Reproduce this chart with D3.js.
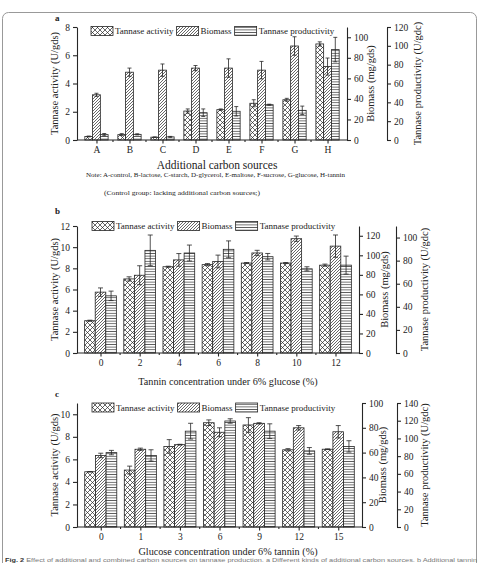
<!DOCTYPE html>
<html>
<head>
<meta charset="utf-8">
<script src="https://cdn.jsdelivr.net/npm/d3@7"></script>
<style>
  body { margin: 0; background: #fff; }
  text { font-family: "Liberation Serif", "Times New Roman", serif; fill: #222; }
</style>
</head>
<body>
<svg id="fig" width="479" height="563"></svg>
<script>
// Panel a: additional carbon sources
const catsA = ["A", "B", "C", "D", "E", "F", "G", "H"];
const actA = [0.25, 0.38, 0.2, 2.05, 2.15, 2.6, 2.85, 6.8];
const actErrA = [0.03, 0.07, 0.02, 0.15, 0.05, 0.25, 0.1, 0.15];
const bioA = [44, 66, 68, 70, 70, 68, 91.5, 71.5];
const bioErrA = [1.5, 4, 6, 2.5, 9, 8.5, 9, 8.3];
const prodA = [5.7, 6, 3.3, 29, 30.5, 37.5, 31.5, 96];
const prodErrA = [1.2, 0.6, 0.5, 4, 5, 0.5, 4.5, 13];

// Panel b: tannin concentration under 6% glucose
const catsB = ["0", "2", "4", "6", "8", "10", "12"];
const actB = [3.05, 7.0, 8.15, 8.35, 8.5, 8.5, 8.3];
const actErrB = [0.05, 0.2, 0.05, 0.1, 0.05, 0.05, 0.1];
const bioB = [62.3, 79.6, 95.3, 93.7, 102.4, 117, 109.4];
const bioErrB = [4.3, 9.7, 6.5, 6.5, 2.7, 2.7, 11.4];
const prodB = [49.5, 88.9, 86.6, 89.8, 83.4, 72.9, 76.1];
const prodErrB = [4.1, 13.3, 6.9, 7.3, 2.8, 1.8, 7.8];

// Panel c: glucose concentration under 6% tannin
const catsC = ["0", "1", "3", "6", "9", "12", "15"];
const actC = [4.9, 5.05, 7.15, 9.25, 9.05, 6.85, 6.9];
const actErrC = [0.02, 0.35, 0.6, 0.25, 0.65, 0.1, 0.03];
const bioC = [57.7, 62.7, 66.4, 76.4, 83.6, 80, 76.8];
const bioErrC = [1.8, 0.9, 0.3, 3.6, 0.5, 1.8, 5];
const prodC = [84, 80.8, 108.2, 119.7, 108.2, 85.9, 91];
const prodErrC = [2.5, 6.4, 8.9, 2.5, 8.3, 3.8, 6.4];

const seriesNames = ["Tannase activity", "Biomass", "Tannase productivity"];
const patterns = ["pCross", "pDiag", "pHoriz"];
const ink = "#262626";

const svg = d3.select("#fig");

// page frame (top border of the article box)
svg.append("rect")
    .attr("x", 2.5).attr("y", 12.5)
    .attr("width", 474).attr("height", 600)
    .attr("rx", 6)
    .attr("fill", "none").attr("stroke", "#999").attr("stroke-width", 1);

// hatch patterns
const defs = svg.append("defs");
let p = defs.append("pattern").attr("id", "pCross")
    .attr("patternUnits", "userSpaceOnUse").attr("width", 5).attr("height", 5);
p.append("rect").attr("width", 5).attr("height", 5).attr("fill", "#fff");
p.append("path").attr("d", "M0,0L5,5M5,0L0,5")
    .attr("stroke", ink).attr("stroke-width", 0.7);

p = defs.append("pattern").attr("id", "pDiag")
    .attr("patternUnits", "userSpaceOnUse").attr("width", 3).attr("height", 3);
p.append("rect").attr("width", 3).attr("height", 3).attr("fill", "#fff");
p.append("path").attr("d", "M-1,1L1,-1M0,3L3,0M2,4L4,2")
    .attr("stroke", ink).attr("stroke-width", 0.7);

p = defs.append("pattern").attr("id", "pHoriz")
    .attr("patternUnits", "userSpaceOnUse").attr("width", 4).attr("height", 2.6);
p.append("rect").attr("width", 4).attr("height", 2.6).attr("fill", "#fff");
p.append("path").attr("d", "M0,1.3H4")
    .attr("stroke", ink).attr("stroke-width", 0.7);

// style an axis group
const styleAxis = (g) => {
    g.selectAll("path, line").attr("stroke", ink).attr("stroke-width", 1.1);
    g.selectAll("text").attr("font-size", 9.5).attr("fill", ink)
        .style("font-family", '"Liberation Serif", serif');
};

// Draw one panel with its three y axes.
function drawPanel(cfg) {
    const g = svg.append("g");

    const x = d3.scalePoint().domain(cfg.cats)
        .range([cfg.left, cfg.right]).padding(cfg.pad);
    const barW = x.step() * cfg.barFrac;

    const yL = d3.scaleLinear().domain([0, cfg.leftMax]).range([cfg.bottom, cfg.top]);
    const yB = d3.scaleLinear().domain([0, cfg.bioMax]).range([cfg.bottom, cfg.top]);
    const yP = d3.scaleLinear().domain([0, cfg.prodMax]).range([cfg.bottom, cfg.top]);
    const scales = [yL, yB, yP];
    const vals = [cfg.act, cfg.bio, cfg.prod];
    const errs = [cfg.actErr, cfg.bioErr, cfg.prodErr];

    // bars
    vals.forEach((v, s) => {
        const y = scales[s];
        g.append("g").selectAll("rect").data(v).enter().append("rect")
            .attr("x", (d, i) => x(cfg.cats[i]) + (s - 1.5) * barW)
            .attr("y", d => y(d))
            .attr("width", barW)
            .attr("height", d => y(0) - y(d))
            .attr("fill", `url(#${patterns[s]})`)
            .attr("stroke", ink).attr("stroke-width", 0.8);

        // error bars
        const eg = g.append("g").attr("stroke", ink).attr("stroke-width", 0.8);
        v.forEach((d, i) => {
            const cx = x(cfg.cats[i]) + (s - 1) * barW;
            const y1 = y(d + errs[s][i]), y2 = y(d - errs[s][i]);
            eg.append("line").attr("x1", cx).attr("x2", cx).attr("y1", y1).attr("y2", y2);
            eg.append("line").attr("x1", cx - cfg.cap).attr("x2", cx + cfg.cap).attr("y1", y1).attr("y2", y1);
            eg.append("line").attr("x1", cx - cfg.cap).attr("x2", cx + cfg.cap).attr("y1", y2).attr("y2", y2);
        });
    });

    // x axis: major ticks at the groups, minor ticks between them
    const gx = g.append("g").attr("transform", `translate(0,${cfg.bottom})`);
    gx.append("line").attr("x1", cfg.left).attr("x2", cfg.right);
    gx.selectAll(".minor").data(cfg.cats.slice(1)).enter().append("line")
        .attr("x1", d => x(d) - x.step() / 2).attr("x2", d => x(d) - x.step() / 2)
        .attr("y1", 0).attr("y2", 2);
    gx.call(d3.axisBottom(x).tickSize(3.5).tickPadding(3));
    gx.select(".domain").remove();
    styleAxis(gx);

    // left axis
    const gl = g.append("g").attr("transform", `translate(${cfg.left},0)`);
    gl.call(d3.axisLeft(yL).tickValues(d3.range(0, cfg.leftMax + 0.01, 1)).tickFormat("").tickSize(2).tickSizeOuter(0));
    gl.call(d3.axisLeft(yL).tickValues(d3.range(0, cfg.leftTop + 0.01, 2)).tickSize(4).tickSizeOuter(0));
    styleAxis(gl);

    // biomass axis
    const gb = g.append("g").attr("transform", `translate(${cfg.right},0)`);
    gb.call(d3.axisRight(yB).tickValues(d3.range(0, cfg.bioMax + 0.01, 10)).tickFormat("").tickSize(2).tickSizeOuter(0));
    gb.call(d3.axisRight(yB).tickValues(d3.range(0, cfg.bioTop + 0.01, 20)).tickSize(4).tickSizeOuter(0));
    styleAxis(gb);

    // productivity axis
    const gp = g.append("g").attr("transform", `translate(${cfg.prodX},0)`);
    gp.call(d3.axisRight(yP).tickValues(d3.range(0, cfg.prodMax + 0.01, 10)).tickFormat("").tickSize(2).tickSizeOuter(0));
    gp.call(d3.axisRight(yP).tickValues(d3.range(0, cfg.prodTop + 0.01, 20)).tickSize(4).tickSizeOuter(0));
    styleAxis(gp);

    // axis titles
    const midY = (cfg.top + cfg.bottom) / 2;
    const title = (tx, label) => g.append("text")
        .attr("transform", `translate(${tx},${midY}) rotate(-90)`)
        .attr("text-anchor", "middle").attr("font-size", 10.5).text(label);
    title(cfg.left - 19, "Tannase activity (U/gds)");
    title(cfg.bioTitleX, "Biomass (mg/gds)");
    title(cfg.prodTitleX, "Tannase productivity (U/gdc)");

    g.append("text").attr("x", (cfg.left + cfg.right) / 2 + cfg.xTitleShift).attr("y", cfg.xTitleY)
        .attr("text-anchor", "middle").attr("font-size", cfg.xTitleFont).text(cfg.xTitle);

    g.append("text").attr("x", 55).attr("y", cfg.tagY)
        .attr("font-size", 9).attr("font-weight", "bold").text(cfg.tag);

    // legend
    let lx = cfg.legendX;
    const ly = cfg.legendY;
    seriesNames.forEach((name, s) => {
        g.append("rect").attr("x", lx).attr("y", ly - 4.5).attr("width", 22).attr("height", 9)
            .attr("fill", `url(#${patterns[s]})`).attr("stroke", ink).attr("stroke-width", 0.8);
        const t = g.append("text").attr("x", lx + 24).attr("y", ly + 3.3)
            .attr("font-size", 9).text(name);
        lx += 24 + t.node().getComputedTextLength() + 3;
    });
}

drawPanel({
    tag: "a", tagY: 21, cats: catsA, act: actA, actErr: actErrA, bio: bioA, bioErr: bioErrA,
    prod: prodA, prodErr: prodErrA,
    top: 27, bottom: 140, left: 77, right: 347, prodX: 387, pad: 0.59, barFrac: 0.235, cap: 2,
    leftMax: 8, leftTop: 8, bioMax: 110, bioTop: 100, prodMax: 120, prodTop: 120,
    bioTitleX: 374, prodTitleX: 421,
    xTitle: "Additional carbon sources", xTitleY: 168.5, xTitleFont: 11.5, xTitleShift: 5,
    legendX: 91, legendY: 31
});

drawPanel({
    tag: "b", tagY: 214, cats: catsB, act: actB, actErr: actErrB, bio: bioB, bioErr: bioErrB,
    prod: prodB, prodErr: prodErrB,
    top: 226, bottom: 353, left: 77, right: 359, prodX: 396, pad: 0.6, barFrac: 0.27, cap: 2.5,
    leftMax: 12, leftTop: 12, bioMax: 130, bioTop: 120, prodMax: 110, prodTop: 100,
    bioTitleX: 388, prodTitleX: 428,
    xTitle: "Tannin concentration under 6% glucose (%)", xTitleY: 384.5, xTitleFont: 10.2, xTitleShift: 10,
    legendX: 92, legendY: 226
});

drawPanel({
    tag: "c", tagY: 397, cats: catsC, act: actC, actErr: actErrC, bio: bioC, bioErr: bioErrC,
    prod: prodC, prodErr: prodErrC,
    top: 403, bottom: 527, left: 77, right: 362, prodX: 397, pad: 0.6, barFrac: 0.27, cap: 2.5,
    leftMax: 11, leftTop: 10, bioMax: 100, bioTop: 100, prodMax: 140, prodTop: 140,
    bioTitleX: 386, prodTitleX: 428,
    xTitle: "Glucose concentration under 6% tannin (%)", xTitleY: 554.5, xTitleFont: 10.2, xTitleShift: 8.5,
    legendX: 92, legendY: 407.5
});

// note under panel a
svg.append("text").attr("x", 86).attr("y", 176.5).attr("font-size", 7)
    .attr("textLength", 259).attr("lengthAdjust", "spacingAndGlyphs")
    .text("Note: A-control, B-lactose, C-starch, D-glycerol, E-maltose, F-sucrose, G-glucose, H-tannin");
svg.append("text").attr("x", 104).attr("y", 194.5).attr("font-size", 7)
    .attr("textLength", 156).attr("lengthAdjust", "spacingAndGlyphs")
    .text("(Control group: lacking additional carbon sources;)");

// figure caption along the bottom edge
const cap = svg.append("text").attr("x", 5).attr("y", 561.5).attr("font-size", 5.5)
    .attr("textLength", 472).attr("lengthAdjust", "spacingAndGlyphs")
    .style("font-family", '"Liberation Sans", sans-serif');
cap.append("tspan").attr("font-weight", "bold").attr("fill", "#333").text("Fig. 2 ");
cap.append("tspan").attr("fill", "#777")
    .text("Effect of additional and combined carbon sources on tannase production. a Different kinds of additional carbon sources. b Additional tannin");
</script>
</body>
</html>
